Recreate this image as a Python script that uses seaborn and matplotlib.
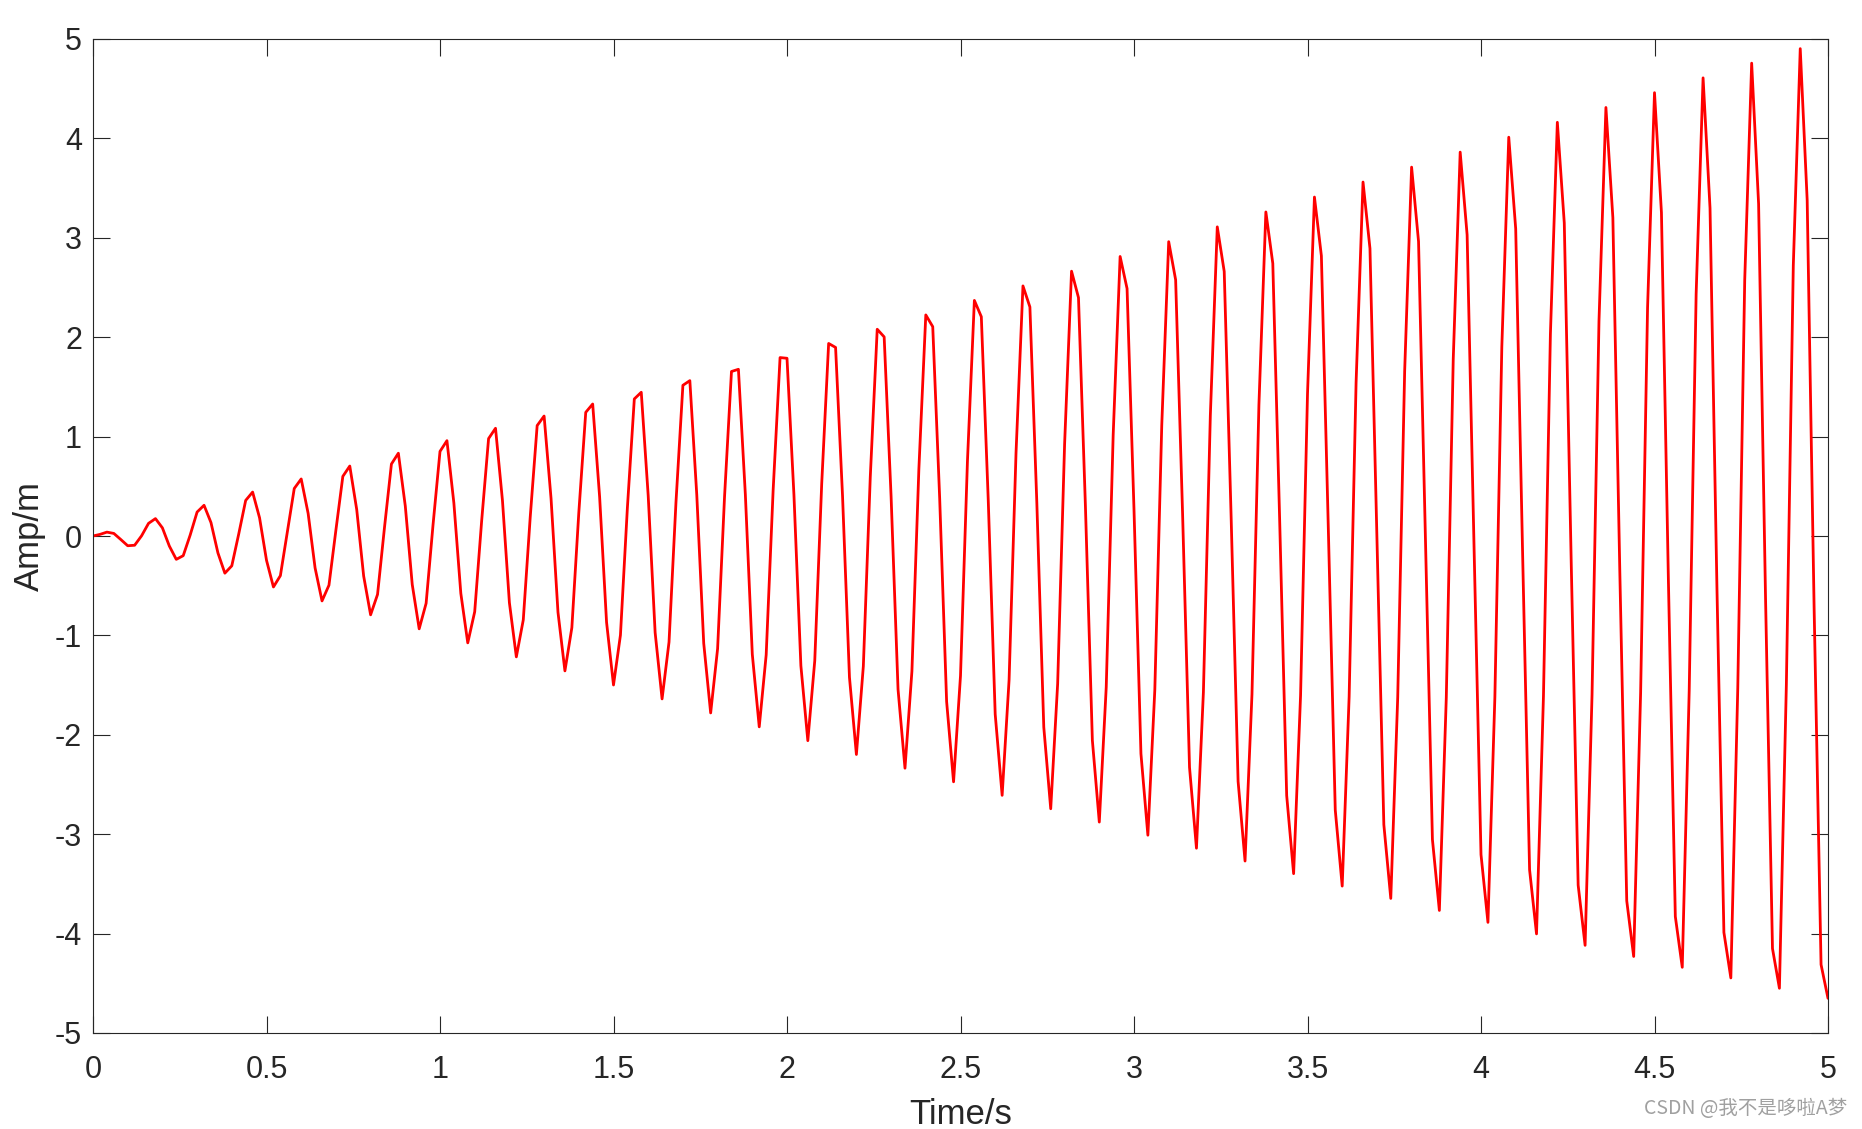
import numpy as np
import matplotlib
matplotlib.use('Agg')
import matplotlib.pyplot as plt
import seaborn as sns

# 采样时间 (s)，步长 0.02
time_s = np.linspace(0, 5, 251)

# 振幅读数 (m)，每行 7 个点
amp_m = [
    0.000, 0.016, 0.039, 0.026, -0.035, -0.098, -0.093,
    0.002, 0.127, 0.175, 0.082, -0.101, -0.235, -0.198,
    0.009, 0.241, 0.309, 0.135, -0.170, -0.374, -0.300,
    0.021, 0.358, 0.442, 0.183, -0.244, -0.513, -0.399,
    0.038, 0.478, 0.574, 0.227, -0.321, -0.653, -0.495,
    0.059, 0.600, 0.704, 0.266, -0.403, -0.793, -0.588,
    0.085, 0.724, 0.833, 0.301, -0.488, -0.934, -0.677,
    0.115, 0.851, 0.959, 0.331, -0.577, -1.075, -0.762,
    0.150, 0.980, 1.084, 0.357, -0.671, -1.216, -0.844,
    0.190, 1.111, 1.207, 0.378, -0.767, -1.357, -0.922,
    0.234, 1.244, 1.328, 0.394, -0.868, -1.499, -0.997,
    0.283, 1.379, 1.446, 0.406, -0.972, -1.639, -1.067,
    0.337, 1.516, 1.563, 0.413, -1.079, -1.780, -1.134,
    0.395, 1.655, 1.677, 0.416, -1.190, -1.920, -1.196,
    0.457, 1.795, 1.788, 0.414, -1.305, -2.059, -1.255,
    0.524, 1.937, 1.897, 0.407, -1.422, -2.198, -1.310,
    0.595, 2.080, 2.003, 0.395, -1.543, -2.336, -1.360,
    0.671, 2.224, 2.106, 0.378, -1.666, -2.473, -1.406,
    0.751, 2.370, 2.206, 0.357, -1.793, -2.609, -1.448,
    0.835, 2.516, 2.304, 0.331, -1.923, -2.744, -1.485,
    0.924, 2.664, 2.398, 0.301, -2.055, -2.878, -1.519,
    1.017, 2.812, 2.489, 0.265, -2.190, -3.010, -1.547,
    1.114, 2.961, 2.577, 0.225, -2.328, -3.141, -1.571,
    1.214, 3.110, 2.661, 0.180, -2.469, -3.270, -1.591,
    1.319, 3.260, 2.742, 0.130, -2.611, -3.397, -1.606,
    1.428, 3.410, 2.819, 0.076, -2.756, -3.522, -1.616,
    1.541, 3.561, 2.893, 0.016, -2.904, -3.646, -1.622,
    1.658, 3.711, 2.963, -0.048, -3.053, -3.767, -1.623,
    1.778, 3.862, 3.029, -0.116, -3.205, -3.887, -1.619,
    1.902, 4.012, 3.091, -0.190, -3.358, -4.003, -1.611,
    2.030, 4.162, 3.149, -0.268, -3.513, -4.118, -1.597,
    2.161, 4.311, 3.203, -0.350, -3.670, -4.230, -1.579,
    2.296, 4.460, 3.254, -0.437, -3.828, -4.339, -1.556,
    2.434, 4.609, 3.299, -0.529, -3.988, -4.446, -1.528,
    2.575, 4.757, 3.341, -0.625, -4.150, -4.550, -1.496,
    2.720, 4.903, 3.378, -0.726, -4.312, -4.651,
]

x_ticks = [0, 0.5, 1, 1.5, 2, 2.5, 3, 3.5, 4, 4.5, 5]
x_tick_labels = ['0', '0.5', '1', '1.5', '2', '2.5', '3', '3.5', '4', '4.5', '5']
y_ticks = [-5, -4, -3, -2, -1, 0, 1, 2, 3, 4, 5]
y_tick_labels = ['-5', '-4', '-3', '-2', '-1', '0', '1', '2', '3', '4', '5']

sns.set_style('ticks')
plt.rcParams['font.family'] = ['Liberation Sans', 'DejaVu Sans']
plt.rcParams['axes.edgecolor'] = '#262626'
plt.rcParams['axes.linewidth'] = 0.8

W, H = 1862, 1129
fig = plt.figure(figsize=(W / 100, H / 100), dpi=100)
fig.patch.set_facecolor('white')
ax = fig.add_axes([93 / W, 1 - 1033 / H, (1828 - 93) / W, (1033 - 39) / H])

sns.lineplot(x=time_s, y=amp_m, ax=ax, color='#ff0000', linewidth=2.0,
             estimator=None, sort=False)

ax.set_xlim(0, 5)
ax.set_ylim(-5, 5)
ax.set_xticks(x_ticks)
ax.set_xticklabels(x_tick_labels)
ax.set_yticks(y_ticks)
ax.set_yticklabels(y_tick_labels)
ax.tick_params(direction='in', top=True, right=True, length=12.2, width=0.8,
               colors='#262626', labelsize=22)
ax.tick_params(axis='x', pad=15.5)
ax.tick_params(axis='y', pad=8)
for s in ax.spines.values():
    s.set_visible(True)
    s.set_color('#262626')

ax.set_xlabel('Time/s', fontsize=25, color='#262626', labelpad=10)
ax.set_ylabel('Amp/m', fontsize=25, color='#262626', labelpad=6)

# 水印
fig.text(1847 / W, 1 - 1109 / H, 'CSDN @我不是哆啦A梦', ha='right', va='center',
         fontsize=14, color='#a0a0a0',
         family=['Noto Sans CJK SC', 'DejaVu Sans'])

fig.savefig('out.png', dpi=100, facecolor='white')
